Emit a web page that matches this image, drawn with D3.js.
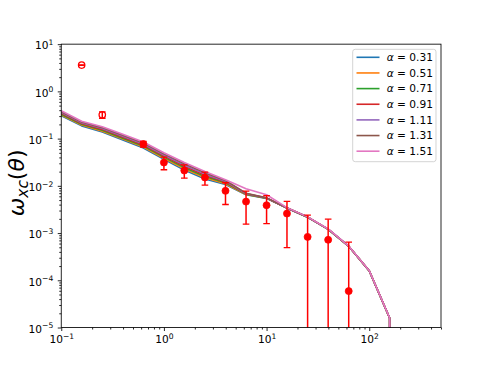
<!DOCTYPE html>
<html><head><meta charset="utf-8">
<script src="https://cdn.jsdelivr.net/npm/d3@7"></script>
<style>body{margin:0;background:#fff} svg{display:block}</style>
</head><body>
<script>
// ---- data ----
const curveX = [0.1, 0.158, 0.251, 0.398, 0.631, 1.0, 1.58, 2.51, 3.98, 6.31, 10, 15.8, 25.1, 39.8, 63.1, 100, 158, 251];
const alphaLabels = ["0.31", "0.51", "0.71", "0.91", "1.11", "1.31", "1.51"];
const a031 = [0.305, 0.186, 0.138, 0.0933, 0.0631, 0.0363, 0.0215, 0.0139, 0.0107, 0.00646, 0.00543, 0.00337, 0.00216, 0.00120, 0.000524, 0.000158, 1.58e-5, 0];
const a051 = [0.318, 0.194, 0.144, 0.0977, 0.0664, 0.0383, 0.0229, 0.0148, 0.0111, 0.00656, 0.00546, 0.00338, 0.00217, 0.00120, 0.000525, 0.000158, 1.58e-5, 0];
const a071 = [0.330, 0.201, 0.150, 0.102, 0.0697, 0.0405, 0.0244, 0.0157, 0.0116, 0.00667, 0.00548, 0.00339, 0.00217, 0.00120, 0.000525, 0.000158, 1.58e-5, 0];
const a091 = [0.344, 0.209, 0.157, 0.107, 0.0733, 0.0427, 0.0259, 0.0167, 0.0120, 0.00678, 0.00551, 0.00340, 0.00218, 0.00121, 0.000526, 0.000159, 1.59e-5, 0];
const a111 = [0.359, 0.217, 0.163, 0.112, 0.0771, 0.0450, 0.0275, 0.0177, 0.0125, 0.00689, 0.00553, 0.00341, 0.00218, 0.00121, 0.000527, 0.000159, 1.59e-5, 0];
const a131 = [0.373, 0.225, 0.171, 0.118, 0.0809, 0.0475, 0.0293, 0.0189, 0.0130, 0.00700, 0.00556, 0.00342, 0.00219, 0.00121, 0.000528, 0.000159, 1.59e-5, 0];
const a151 = [0.389, 0.234, 0.178, 0.123, 0.0851, 0.0501, 0.0312, 0.0201, 0.0135, 0.00865, 0.00646, 0.00346, 0.00220, 0.00122, 0.000530, 0.000160, 1.60e-5, 0];
const seriesValues = [a031, a051, a071, a091, a111, a131, a151];

const obsX   = [0.158, 0.251, 0.631, 1.0, 1.58, 2.51, 3.98, 6.31, 10.0, 15.8, 25.1, 39.8, 63.1];
const obsY   = [3.6, 0.32, 0.0766, 0.0312, 0.0211, 0.0150, 0.00783, 0.00464, 0.00389, 0.00259, 0.00083, 0.00072, 0.000059];
const obsErr = [0.05, 0.05, 0.0105, 0.0093, 0.0066, 0.0046, 0.0038, 0.0031, 0.0023, 0.0021, 0.00157, 0.00125, 0.000587];
const openPoints = 2; // first points drawn hollow

const xMajorTicks = [0.1, 1, 10, 100];
const yMajorTicks = [1e-5, 1e-4, 1e-3, 1e-2, 1e-1, 1, 10];

// ---- drawing ----
const colors = ["#1f77b4", "#ff7f0e", "#2ca02c", "#d62728", "#9467bd", "#8c564b", "#e377c2"];
const FONT = "'DejaVu Sans', sans-serif";
const W = 490, H = 368;
const L = 61.25, R = 441, T = 44.16, B = 327.52;

const svg = d3.select("body").append("svg").attr("width", W).attr("height", H)
  .style("font-family", FONT);

const x = d3.scaleLog().domain([0.1, 500]).range([L, R]);
const y = d3.scaleLog().domain([1e-5, 10]).range([B, T]);
const safe = v => v > 0 ? v : 1e-300;

svg.append("defs").append("clipPath").attr("id", "clip")
  .append("rect").attr("x", L).attr("y", T).attr("width", R - L).attr("height", B - T);

const plot = svg.append("g").attr("clip-path", "url(#clip)");

const line = d3.line().x(d => x(d[0])).y(d => y(safe(d[1])));
seriesValues.forEach((vals, i) => {
  plot.append("path")
    .datum(curveX.map((xv, j) => [xv, vals[j]]))
    .attr("d", line)
    .attr("fill", "none")
    .attr("stroke", colors[i])
    .attr("stroke-width", 1.6)
    .attr("stroke-linejoin", "round");
});

// data points with error bars
const obs = obsX.map((xv, i) => ({x: xv, y: obsY[i], e: obsErr[i], open: i < openPoints}));
const mk = plot.append("g");
obs.forEach(d => {
  mk.append("circle").attr("cx", x(d.x)).attr("cy", y(d.y)).attr("r", d.open ? 3.2 : 3.5)
    .attr("fill", d.open ? "#fff" : "red").attr("stroke", "red").attr("stroke-width", d.open ? 1.3 : 0.8);
});
const eb = plot.append("g").attr("stroke", "red");
obs.forEach(d => {
  const px = x(d.x);
  const lo = d.y - d.e, hi = d.y + d.e;
  eb.append("line").attr("x1", px).attr("x2", px)
    .attr("y1", y(safe(lo))).attr("y2", y(hi)).attr("stroke-width", 1.5);
  [lo, hi].forEach(v => {
    if (v > 0) eb.append("line").attr("x1", px - 3.3).attr("x2", px + 3.3)
      .attr("y1", y(v)).attr("y2", y(v)).attr("stroke-width", 1.3);
  });
});

// axes
function minorTicks(lo, hi) {
  const out = [];
  for (let d = Math.floor(Math.log10(lo)); d <= Math.ceil(Math.log10(hi)); d++)
    for (let k = 2; k <= 9; k++) { const v = k * Math.pow(10, d); if (v >= lo && v <= hi) out.push(v); }
  return out;
}
const expStr = v => { const e = Math.round(Math.log10(v)); return e < 0 ? "\u2212" + (-e) : String(e); };

function styleAxis(g) {
  g.select(".domain").remove();
  g.selectAll(".tick line").attr("stroke", "#000").attr("stroke-width", 0.85);
  g.attr("font-family", FONT);
}

const gx = svg.append("g").attr("transform", `translate(0,${B})`);
gx.call(d3.axisBottom(x).tickValues(xMajorTicks).tickSize(3.5).tickPadding(4.5).tickFormat(() => ""));
styleAxis(gx);
gx.selectAll(".tick text").each(function(d) {
  const t = d3.select(this).attr("font-size", 10.6).attr("fill", "#000");
  t.append("tspan").text("10");
  t.append("tspan").attr("dy", -4.5).attr("font-size", 7.6).text(expStr(d));
});
const gxm = svg.append("g").attr("transform", `translate(0,${B})`);
gxm.call(d3.axisBottom(x).tickValues(minorTicks(0.1, 500).filter(v => !xMajorTicks.includes(v))).tickSize(2).tickFormat(() => ""));
styleAxis(gxm);

const gy = svg.append("g").attr("transform", `translate(${L},0)`);
gy.call(d3.axisLeft(y).tickValues(yMajorTicks).tickSize(3.5).tickPadding(4.5).tickFormat(() => ""));
styleAxis(gy);
gy.selectAll(".tick text").each(function(d) {
  const t = d3.select(this).attr("font-size", 10.6).attr("fill", "#000").attr("dy", "0.45em");
  t.append("tspan").text("10");
  t.append("tspan").attr("dy", -4.5).attr("font-size", 7.6).text(expStr(d));
});
const gym = svg.append("g").attr("transform", `translate(${L},0)`);
gym.call(d3.axisLeft(y).tickValues(minorTicks(1e-5, 10).filter(v => !yMajorTicks.includes(v))).tickSize(2).tickFormat(() => ""));
styleAxis(gym);

// frame
svg.append("rect").attr("x", L).attr("y", T).attr("width", R - L).attr("height", B - T)
  .attr("fill", "none").attr("stroke", "#000").attr("stroke-width", 0.85);

// y label
const yl = svg.append("text").attr("transform", `translate(24,${(T + B) / 2 - 3}) rotate(-90)`)
  .attr("text-anchor", "middle").attr("font-size", 22).attr("fill", "#000");
yl.append("tspan").attr("font-style", "italic").text("ω");
yl.append("tspan").attr("font-style", "italic").attr("font-size", 15.4).attr("dy", 4).text("xc");
yl.append("tspan").attr("dy", -4).text("(");
yl.append("tspan").attr("font-style", "italic").text("θ");
yl.append("tspan").text(")");

// legend
const lg = svg.append("g");
lg.append("rect").attr("x", 352.7).attr("y", 49.3).attr("width", 83.3).attr("height", 112.4)
  .attr("rx", 2.5).attr("fill", "#fff").attr("fill-opacity", 0.8).attr("stroke", "#cccccc").attr("stroke-width", 0.85);
alphaLabels.forEach((lab, i) => {
  const yy = 57.3 + i * 15.65;
  lg.append("line").attr("x1", 356.5).attr("x2", 379.5).attr("y1", yy).attr("y2", yy)
    .attr("stroke", colors[i]).attr("stroke-width", 1.6);
  const t = lg.append("text").attr("x", 386.7).attr("y", yy).attr("dy", "0.36em")
    .attr("font-size", 10.6).attr("fill", "#000");
  t.append("tspan").attr("font-style", "italic").text("α");
  t.append("tspan").text(" = " + lab);
});
</script>
</body></html>
